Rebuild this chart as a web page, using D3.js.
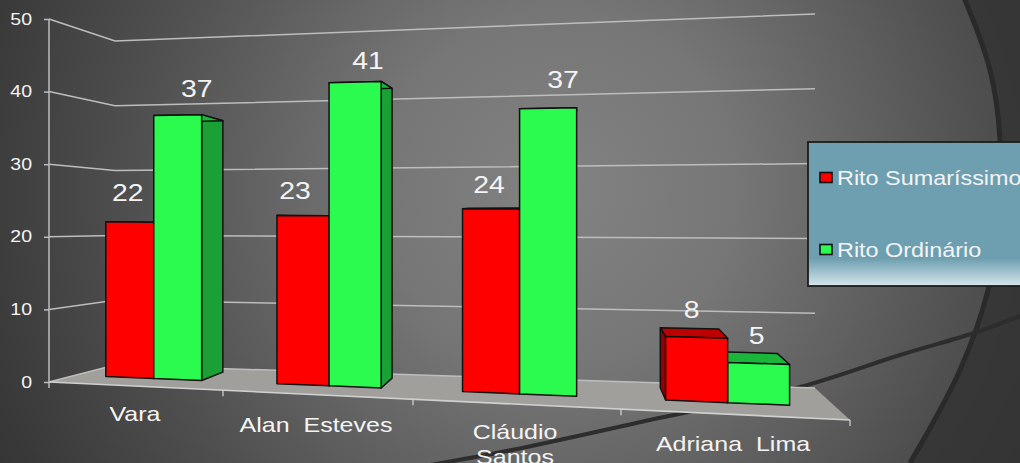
<!DOCTYPE html>
<html><head><meta charset="utf-8">
<script src="https://cdn.jsdelivr.net/npm/d3@7"></script>
<style>html,body{margin:0;padding:0;background:#333;overflow:hidden}svg{display:block}text{font-family:"Liberation Sans",Arial,sans-serif;fill:#f4f4f4}</style>
</head><body><svg id="c" width="1020" height="463"></svg>
<script>
// ---- data ----
const categories = [["Vara"], ["Alan  Esteves"], ["Cláudio", "Santos"], ["Adriana  Lima"]];
const seriesNames = ["Rito Sumaríssimo", "Rito Ordinário"];
const ritoSumarissimo = [22, 23, 24, 8];
const ritoOrdinario = [37, 41, 37, 5];
const yTicks = [0, 10, 20, 30, 40, 50];

// ---- layout (not data) ----
const colors = [{front:"#ff0000",side:"#990000",top:"#bf0000"},{front:"#2bfb4f",side:"#1aa035",top:"#1ab53a"}];
const groupLeft = [.04,.265,.509,.776], groupWidth = [.126,.137,.15,.163];
const labelNudge = [[[-2,-30],[19,-27]],[[-8,-25],[13,-22]],[[-2,-25],[15,-29]],[[-5,-28],[-2,-28]]];
const labelCentres = [[135,413],[316,424],[515,431],[733,443]];
const d0 = .4, d1 = .83;

const svg = d3.select("#c");
const defs = svg.append("defs");
const bg = defs.append("radialGradient").attr("id","bg").attr("gradientUnits","userSpaceOnUse")
  .attr("cx",560).attr("cy",190).attr("r",640);
[[0,"#828282"],[.28,"#767676"],[.66,"#505050"],[.94,"#383838"],[1,"#353535"]].forEach(s=>bg.append("stop").attr("offset",s[0]).attr("stop-color",s[1]));
const lg = defs.append("linearGradient").attr("id","lg").attr("x1",0).attr("x2",0).attr("y1",0).attr("y2",1);
[[0,"#6e9fb0"],[.81,"#6e9fb0"],[1,"#d6e6ec"]].forEach(s=>lg.append("stop").attr("offset",s[0]).attr("stop-color",s[1]));

svg.append("rect").attr("width",1020).attr("height",463).attr("fill","url(#bg)");

// decorative background arcs
const curve = d3.line().curve(d3.curveCatmullRom);
const arcPts = [[963,-5],[990,70],[1000,140],[998,220],[988,290],[960,370],[910,463]];
svg.append("path").attr("d",curve(arcPts)+"L1020,463L1020,-5Z").attr("fill","#303030").attr("opacity",.75);
svg.append("path").attr("d",curve(arcPts)).attr("fill","none").attr("stroke","#2a2a2a").attr("stroke-width",5);
svg.append("path").attr("d",curve([[425,466],[517,449],[650,420],[800,387],[900,355],[977,332],[1025,314]]))
  .attr("fill","none").attr("stroke","#2d2d2d").attr("stroke-width",4);

// ---- scales ----
const yAxisScale = d3.scaleLinear().domain([0,50]).range([382,19]);
const wallLeftY = d3.scaleLinear().domain([0,50]).range([365,41]);
const wallRightY = d3.scaleLinear().domain([0,50]).range([388,14]);
const frontX = d3.scaleLinear().domain([0,1]).range([49,850]);
const backX = d3.scaleLinear().domain([0,1]).range([115,815]);
const frontY = d3.scaleLinear().domain([0,1]).range([382,420]);
const backY = d3.scaleLinear().domain([0,1]).range([365,388]);
const unit = d3.scaleLinear().domain([0,1]).range([6.98,8.22]);
const catEdge = d3.scaleLinear().domain([0,1,2,3,4]).range([49,223,413,621,850]);
const edgeY = d3.scaleLinear().domain([49,850]).range([382,420]);
const project = (u,d,v) => {
  const x = frontX(u)+(backX(u)-frontX(u))*d;
  const y0 = frontY(u)+(backY(u)-frontY(u))*d;
  const k = unit(u)*(1-.127*(d-d0));
  return [x, y0-k*v];
};
const stretched = (sel,x,y,s=1.2)=>sel.attr("text-anchor","middle").attr("transform",`translate(${x},${y}) scale(${s},1)`);

// floor
svg.append("polygon").attr("points",[[49,382],[850,420],[815,388],[115,365]].join(" ")).attr("fill","#a09f9c");

// gridlines
const gridG = svg.append("g");
yTicks.forEach(t=>{
  gridG.append("polyline").attr("points",[[49,yAxisScale(t)],[115,wallLeftY(t)],[815,wallRightY(t)]].join(" "))
    .attr("fill","none").attr("stroke","#bdbdbd").attr("stroke-width",1.5);
});
svg.append("line").attr("x1",49).attr("y1",382).attr("x2",850).attr("y2",420).attr("stroke","#d0d0d0").attr("stroke-width",1.6);
d3.range(0,5).forEach(i=>{
  const x=catEdge(i);
  svg.append("line").attr("x1",x).attr("x2",x).attr("y1",edgeY(x)).attr("y2",edgeY(x)+6).attr("stroke","#d0d0d0").attr("stroke-width",1.3);
});

// y axis
const ax = svg.append("g").attr("transform","translate(49,0)").call(d3.axisLeft(yAxisScale).tickValues(yTicks).tickSize(5));
ax.selectAll("path,line").attr("stroke","#bdbdbd").attr("stroke-width",1.5);
ax.select(".domain").attr("d","M0,19V382");
ax.selectAll("text").attr("font-size",16).attr("transform","scale(1.22,1)").attr("x",-17/1.22).attr("fill","#f0f0f0").style("font-family",'"Liberation Sans"');

// bars
const series = [ritoSumarissimo, ritoOrdinario];
const barsG = svg.append("g").attr("stroke","#111").attr("stroke-width",1.5).attr("stroke-linejoin","round");
categories.forEach((c,i)=>{
  const order = project(groupLeft[i],d0,0)[0] > 600 ? [1,0] : [0,1];
  order.forEach(s=>{
    const v = series[s][i], w = groupWidth[i]/2;
    const uL = groupLeft[i]+w*s, uR = uL+w;
    const FLb=project(uL,d0,0),FRb=project(uR,d0,0),BLb=project(uL,d1,0),BRb=project(uR,d1,0);
    const FLt=project(uL,d0,v),FRt=project(uR,d0,v),BLt=project(uL,d1,v),BRt=project(uR,d1,v);
    const poly=(pts,fill)=>barsG.append("polygon").attr("points",pts.join(" ")).attr("fill",fill);
    if(BRb[0]>FRb[0]) poly([FRb,BRb,BRt,FRt],colors[s].side);
    if(BLb[0]<FLb[0]) poly([FLb,BLb,BLt,FLt],colors[s].side);
    poly([FLt,FRt,BRt,BLt],colors[s].top);
    poly([FLb,FRb,FRt,FLt],colors[s].front);
  });
});

// value labels
categories.forEach((c,i)=>{
  [0,1].forEach(s=>{
    const v=series[s][i], w=groupWidth[i]/2, uM=groupLeft[i]+w*s+w/2;
    const p=project(uM,d0,v), n=labelNudge[i][s];
    stretched(svg.append("text").text(v).attr("font-size",24).attr("dy",".36em"),p[0]+n[0],p[1]+n[1],1.18);
  });
});

// category labels
categories.forEach((lines,i)=>{
  const [x,y]=labelCentres[i];
  lines.forEach((t,j)=>{
    stretched(svg.append("text").text(t).style("white-space","pre").attr("font-size",21).attr("dy",".36em"),x,y+j*25,1.19);
  });
});

// legend
svg.append("rect").attr("x",808).attr("y",142).attr("width",240).attr("height",144).attr("fill","url(#lg)").attr("stroke","#1c1c1c").attr("stroke-width",1.8);
seriesNames.forEach((n,i)=>{
  const y=178+i*72;
  svg.append("rect").attr("x",820).attr("y",y-5.5).attr("width",12).attr("height",10).attr("fill",colors[i].front).attr("stroke","#111").attr("stroke-width",1.6);
  svg.append("text").text(n).attr("font-size",20).attr("dy",".36em").attr("text-anchor","start").attr("transform",`translate(837,${y-0.5}) scale(1.17,1)`);
});
</script></body></html>
